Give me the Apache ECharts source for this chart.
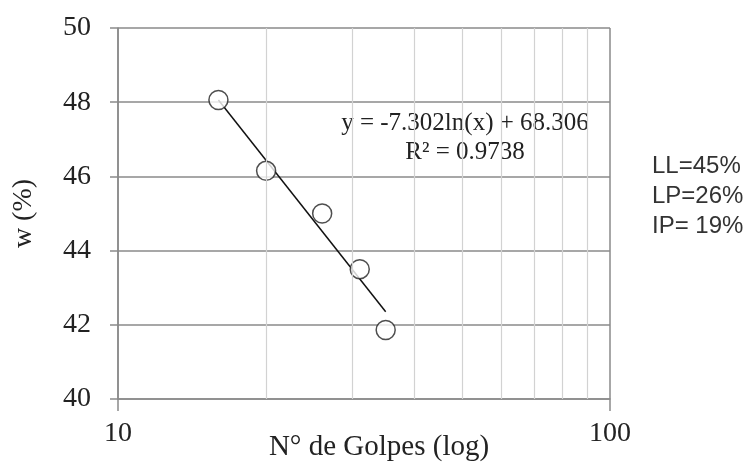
<!DOCTYPE html>
<html>
<head>
<meta charset="utf-8">
<script src="https://cdn.jsdelivr.net/npm/echarts@6/dist/echarts.min.js"></script>
<style>html,body{margin:0;padding:0;background:#fff;}#c{width:752px;height:467px;}</style>
</head>
<body>
<div id="c"></div>
<script>
// Data
const golpes = [16, 20, 26, 31, 35];
const humedad = [48.06, 46.15, 45.0, 43.5, 41.86];
const trendX = [16, 35];
const trendY = [48.06, 42.35];
const minorGridX = [20, 30, 40, 50, 60, 70, 80, 90];
const equationText = 'y = -7.302ln(x) + 68.306';
const r2Text = 'R² = 0.9738';
const limitsText = ['LL=45%', 'LP=26%', 'IP= 19%'];
const xTitle = 'N° de Golpes (log)';
const yTitle = 'w (%)';

const chart = echarts.init(document.getElementById('c'), null, {renderer: 'canvas'});
const serif = '"Liberation Serif", "Times New Roman", serif';
const sans = '"Liberation Sans", Arial, sans-serif';
const option = {
  animation: false,
  backgroundColor: '#fff',
  grid: {left: 118, right: 142, top: 28, bottom: 68, containLabel: false, outerBoundsMode: 'none'},
  xAxis: {
    type: 'log', logBase: 10, min: 10, max: 100,
    axisLine: {show: true, lineStyle: {color: '#8a8a8a', width: 1.5}},
    axisTick: {show: true, inside: false, length: 12, lineStyle: {color: '#8a8a8a', width: 1.5}},
    axisLabel: {fontFamily: serif, fontSize: 28, color: '#222', margin: 21},
    splitLine: {show: true, lineStyle: {color: '#8a8a8a', width: 1.5}}
  },
  yAxis: {
    type: 'value', min: 40, max: 50, interval: 2,
    name: yTitle, nameLocation: 'middle', nameGap: 80, nameRotate: 90,
    nameTextStyle: {fontFamily: serif, fontSize: 28, color: '#222'},
    axisLine: {show: true, lineStyle: {color: '#8a8a8a', width: 1.5}},
    axisTick: {show: true, inside: false, length: 8, lineStyle: {color: '#8a8a8a', width: 1.5}},
    axisLabel: {fontFamily: serif, fontSize: 28, color: '#222', margin: 27},
    splitLine: {show: true, lineStyle: {color: '#8a8a8a', width: 1.5}}
  },
  series: [
    {
      type: 'line', data: trendX.map((x, i) => [x, trendY[i]]),
      symbol: 'none', lineStyle: {color: '#111', width: 1.5}, z: 3,
      markLine: {
        silent: true, symbol: ['none', 'none'], label: {show: false},
        lineStyle: {color: '#d2d2d2', width: 1.2, type: 'solid'},
        data: minorGridX.map(v => ({xAxis: v}))
      }
    },
    {
      type: 'scatter', data: golpes.map((x, i) => [x, humedad[i]]),
      symbol: 'circle', symbolSize: 19,
      itemStyle: {color: '#fff', borderColor: '#222', borderWidth: 1.5}, z: 4
    }
  ],
  graphic: [
    {type: 'text', x: 465, y: 123, style: {text: equationText, font: '25px ' + serif, fill: '#222', textAlign: 'center', textVerticalAlign: 'middle'}},
    {type: 'text', x: 465, y: 152, style: {text: r2Text, font: '25px ' + serif, fill: '#222', textAlign: 'center', textVerticalAlign: 'middle'}},
    {type: 'text', x: 379, y: 447, style: {text: xTitle, font: '29px ' + serif, fill: '#222', textAlign: 'center', textVerticalAlign: 'middle'}},
    {type: 'text', x: 652, y: 166, style: {text: limitsText[0], font: '24px ' + sans, fill: '#333', textAlign: 'left', textVerticalAlign: 'middle'}},
    {type: 'text', x: 652, y: 196, style: {text: limitsText[1], font: '24px ' + sans, fill: '#333', textAlign: 'left', textVerticalAlign: 'middle'}},
    {type: 'text', x: 652, y: 226, style: {text: limitsText[2], font: '24px ' + sans, fill: '#333', textAlign: 'left', textVerticalAlign: 'middle'}}
  ]
};
chart.setOption(option);
</script>
</body>
</html>
